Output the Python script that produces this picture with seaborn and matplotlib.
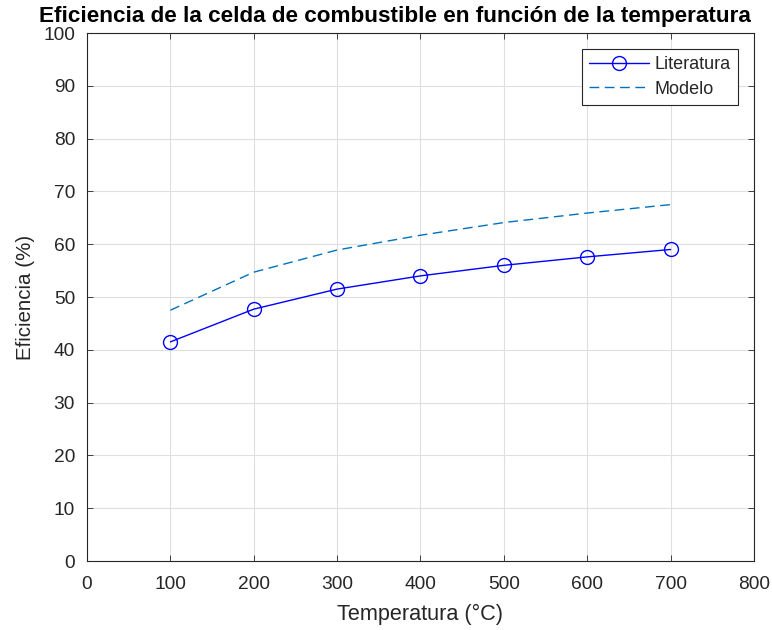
import matplotlib
matplotlib.use("Agg")
import matplotlib.pyplot as plt
import seaborn as sns
import pandas as pd

temperatura = [100, 200, 300, 400, 500, 600, 700]
literatura = [41.5, 47.7, 51.5, 54.0, 56.0, 57.6, 59.0]
modelo = [47.5, 54.7, 58.9, 61.7, 64.1, 65.9, 67.5]

x_ticks = [0, 100, 200, 300, 400, 500, 600, 700, 800]
y_ticks = [0, 10, 20, 30, 40, 50, 60, 70, 80, 90, 100]

sns.set_theme(style="whitegrid")
plt.rcParams['font.family'] = ['Liberation Sans', 'DejaVu Sans']

df = pd.DataFrame({"T": temperatura, "Literatura": literatura, "Modelo": modelo})

fig = plt.figure(figsize=(7.72, 6.3), dpi=100)
ax = fig.add_axes([87/772, 1 - 561/630, (754-87)/772, (561-33)/630])

sns.lineplot(data=df, x="T", y="Literatura", ax=ax, color=(0, 0, 1), linewidth=1.0,
             marker="o", markersize=10, markerfacecolor="none", markeredgecolor=(0, 0, 1),
             markeredgewidth=1.0, label="Literatura")
sns.lineplot(data=df, x="T", y="Modelo", ax=ax, color=(0, 0.447, 0.741), linewidth=1.0,
             label="Modelo")
ax.lines[-1].set_linestyle((0, (7, 4)))

ax.set_xlim(0, 800)
ax.set_ylim(0, 100)
ax.set_xticks(x_ticks)
ax.set_yticks(y_ticks)
ax.tick_params(axis="both", labelsize=13.8, colors="#262626", direction="in", length=4,
               width=0.6, top=True, right=True, bottom=True, left=True)
ax.tick_params(axis="x", pad=10.7)
ax.tick_params(axis="y", pad=8.6)
ax.grid(True, color="#dfdfdf", linewidth=0.8)
for s in ax.spines.values():
    s.set_visible(True)
    s.set_color("#262626")
    s.set_linewidth(0.8)
ax.set_facecolor("white")

ax.set_xlabel("Temperatura (°C)", fontsize=15.6, color="#262626", labelpad=8)
ax.set_ylabel("Eficiencia (%)", fontsize=14.8, color="#262626", labelpad=6)

# Title is wider than the axes, so it is placed on the figure to stay inside it
fig.text(394.5/772, 1 - 22/630,
         "Eficiencia de la celda de combustible en función de la temperatura",
         fontsize=16.2, fontweight="bold", color="black", ha="center", va="baseline")

leg = ax.legend(loc="upper right", fontsize=13, frameon=True, fancybox=False,
                edgecolor="#262626", framealpha=1, handlelength=3.3,
                borderaxespad=0.9, labelspacing=0.4, handletextpad=0.3)
leg.get_frame().set_linewidth(0.8)

fig.savefig("out.png", dpi=100)
